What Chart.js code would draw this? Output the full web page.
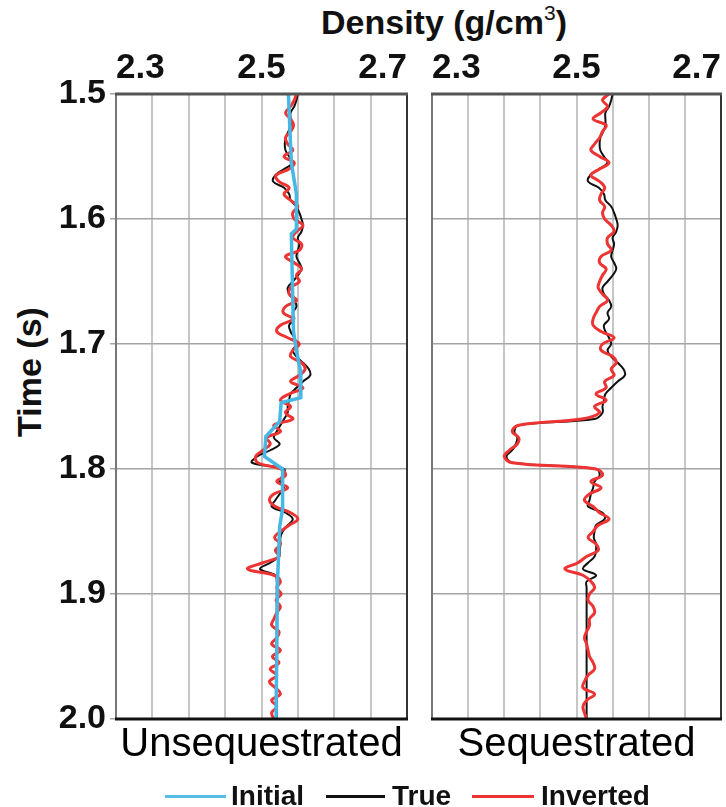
<!DOCTYPE html>
<html>
<head>
<meta charset="utf-8">
<script src="https://cdn.jsdelivr.net/npm/chart.js@4.4.1/dist/chart.umd.min.js"></script>
<style>
  body { margin: 0; background: #fff; width: 726px; height: 807px; position: relative; overflow: hidden;
         font-family: "Liberation Sans", Arial, sans-serif; }
  canvas { position: absolute; top: 0; }
  #left { left: 0; }
  #right { left: 420px; }
  #xtitle { position: absolute; left: 0; width: 888px; top: 5px; text-align: center;
            font-size: 34px; line-height: 34px; font-weight: bold; color: #111; }
  #xtitle sup { font-size: 21px; font-weight: normal; vertical-align: 14px; line-height: 0; }
  #ytitle { position: absolute; left: 29px; top: 372px; transform: translate(-50%, -50%) rotate(-90deg);
            font-size: 34px; line-height: 34px; font-weight: bold; color: #111; white-space: nowrap; }
  .lg-line { position: absolute; height: 3px; top: 795px; }
  .lg-text { position: absolute; top: 780px; font-size: 28px; line-height: 32px; font-weight: bold; color: #111; }
</style>
</head>
<body>
<div id="xtitle">Density (g/cm<sup>3</sup>)</div>
<div id="ytitle">Time (s)</div>
<canvas id="left" width="420" height="807"></canvas>
<canvas id="right" width="306" height="807"></canvas>

<div class="lg-line" style="left:165px;width:61px;background:#55bde8"></div>
<div class="lg-text" style="left:231px">Initial</div>
<div class="lg-line" style="left:326px;width:59px;background:#111"></div>
<div class="lg-text" style="left:392px">True</div>
<div class="lg-line" style="left:472px;width:62px;background:#ee3333"></div>
<div class="lg-text" style="left:541px">Inverted</div>

<script>
// time samples (s)
const times = [
  1.500, 1.505, 1.510, 1.515, 1.520, 1.525, 1.530, 1.535, 1.540, 1.545,
  1.550, 1.555, 1.560, 1.565, 1.570, 1.575, 1.580, 1.585, 1.590, 1.595,
  1.600, 1.605, 1.610, 1.615, 1.620, 1.625, 1.630, 1.635, 1.640, 1.645,
  1.650, 1.655, 1.660, 1.665, 1.670, 1.675, 1.680, 1.685, 1.690, 1.695,
  1.700, 1.705, 1.710, 1.715, 1.720, 1.725, 1.730, 1.735, 1.740, 1.745,
  1.750, 1.755, 1.760, 1.765, 1.770, 1.775, 1.780, 1.785, 1.790, 1.795,
  1.800, 1.805, 1.810, 1.815, 1.820, 1.825, 1.830, 1.835, 1.840, 1.845,
  1.850, 1.855, 1.860, 1.865, 1.870, 1.875, 1.880, 1.885, 1.890, 1.895,
  1.900, 1.905, 1.910, 1.915, 1.920, 1.925, 1.930, 1.935, 1.940, 1.945,
  1.950, 1.955, 1.960, 1.965, 1.970, 1.975, 1.980, 1.985, 1.990, 1.995,
  2.000
];

// true density above the reservoir (1.500 - 1.755 s), same in both panels
const trueShallow = [
  2.550, 2.548, 2.545, 2.540, 2.540, 2.540, 2.537, 2.533, 2.532, 2.533,
  2.538, 2.543, 2.531, 2.519, 2.516, 2.531, 2.538, 2.540, 2.548, 2.552,
  2.555, 2.557, 2.555, 2.550, 2.552, 2.550, 2.548, 2.552, 2.555, 2.550,
  2.543, 2.536, 2.538, 2.545, 2.548, 2.543, 2.545, 2.538, 2.540, 2.545,
  2.548, 2.543, 2.548, 2.557, 2.565, 2.567, 2.557, 2.548, 2.540, 2.538,
  2.536, 2.536
];

// true density 1.760 - 2.000 s
const trueUnseqDeep = [
  2.531, 2.526, 2.521, 2.517, 2.525, 2.512, 2.494, 2.487, 2.531, 2.529,
  2.525, 2.531, 2.525, 2.519, 2.514, 2.533, 2.543, 2.536, 2.529, 2.526,
  2.526, 2.525, 2.524, 2.512, 2.498, 2.519, 2.521, 2.521, 2.521, 2.521,
  2.521, 2.521, 2.521, 2.521, 2.521, 2.521, 2.521, 2.521, 2.521, 2.521,
  2.521, 2.521, 2.521, 2.521, 2.521, 2.521, 2.521, 2.521, 2.521
];
const trueSeqDeep = [
  2.525, 2.420, 2.414, 2.418, 2.416, 2.411, 2.403, 2.412, 2.527, 2.532,
  2.525, 2.523, 2.520, 2.518, 2.516, 2.536, 2.539, 2.527, 2.525, 2.524,
  2.527, 2.527, 2.525, 2.516, 2.509, 2.527, 2.514, 2.514, 2.514, 2.514,
  2.514, 2.514, 2.514, 2.514, 2.514, 2.514, 2.514, 2.514, 2.514, 2.514,
  2.514, 2.514, 2.514, 2.514, 2.514, 2.514, 2.514, 2.514, 2.514
];

// inverted density
const invUnseq = [
  2.548, 2.545, 2.540, 2.533, 2.540, 2.544, 2.540, 2.533, 2.536, 2.543,
  2.531, 2.545, 2.538, 2.520, 2.524, 2.538, 2.531, 2.540, 2.550, 2.543,
  2.545, 2.557, 2.548, 2.543, 2.555, 2.552, 2.533, 2.545, 2.555, 2.548,
  2.552, 2.540, 2.538, 2.548, 2.533, 2.530, 2.543, 2.526, 2.521, 2.536,
  2.552, 2.543, 2.540, 2.555, 2.560, 2.552, 2.540, 2.557, 2.538, 2.526,
  2.540, 2.533, 2.543, 2.517, 2.526, 2.507, 2.512, 2.502, 2.492, 2.495,
  2.526, 2.533, 2.521, 2.536, 2.517, 2.511, 2.519, 2.540, 2.550, 2.538,
  2.526, 2.518, 2.526, 2.519, 2.524, 2.502, 2.481, 2.517, 2.526, 2.521,
  2.527, 2.520, 2.526, 2.521, 2.517, 2.514, 2.524, 2.521, 2.514, 2.526,
  2.515, 2.524, 2.512, 2.521, 2.511, 2.519, 2.526, 2.514, 2.521, 2.514,
  2.517
];
const invSeq = [
  2.545, 2.536, 2.543, 2.534, 2.523, 2.541, 2.536, 2.532, 2.525, 2.520,
  2.532, 2.545, 2.532, 2.520, 2.532, 2.539, 2.534, 2.532, 2.539, 2.536,
  2.539, 2.548, 2.552, 2.543, 2.543, 2.548, 2.534, 2.532, 2.541, 2.536,
  2.532, 2.530, 2.536, 2.543, 2.532, 2.527, 2.523, 2.523, 2.534, 2.552,
  2.536, 2.534, 2.550, 2.555, 2.548, 2.552, 2.539, 2.541, 2.527, 2.541,
  2.525, 2.532, 2.507, 2.420, 2.411, 2.420, 2.418, 2.407, 2.400, 2.411,
  2.527, 2.536, 2.520, 2.534, 2.518, 2.511, 2.523, 2.532, 2.545, 2.530,
  2.523, 2.516, 2.527, 2.530, 2.514, 2.502, 2.484, 2.509, 2.520, 2.525,
  2.518, 2.516, 2.523, 2.525, 2.518, 2.518, 2.514, 2.511, 2.514, 2.516,
  2.518, 2.523, 2.525, 2.516, 2.511, 2.509, 2.525, 2.514, 2.509, 2.511,
  2.514
];

// initial model (blocky), unsequestrated panel only
const initTimes = [1.500, 1.555, 1.580, 1.608, 1.612, 1.690, 1.705, 1.720, 1.743, 1.747,
                   1.762, 1.774, 1.790, 1.800, 1.832, 1.846, 1.890, 2.000];
const initDensity = [2.537, 2.541, 2.548, 2.548, 2.541, 2.544, 2.548, 2.553, 2.554, 2.527,
                     2.525, 2.506, 2.504, 2.529, 2.529, 2.525, 2.522, 2.520];

const xLabels = ['2.3', '2.5', '2.7'];
const FONT = '"Liberation Sans", Arial, sans-serif';

function pts(ts, vs) {
  return ts.map((t, i) => ({ x: vs[i], y: t }));
}

// frame around the plot area
const frame = {
  id: 'frame',
  afterDatasetsDraw(chart) {
    const { ctx, chartArea: a } = chart;
    ctx.save();
    ctx.lineWidth = 2;
    ctx.strokeStyle = '#777';
    ctx.beginPath(); ctx.moveTo(a.left, a.top); ctx.lineTo(a.left, a.bottom); ctx.stroke();
    ctx.strokeStyle = '#333';
    ctx.beginPath(); ctx.moveTo(a.right, a.top); ctx.lineTo(a.right, a.bottom); ctx.stroke();
    ctx.lineWidth = 3;
    ctx.strokeStyle = '#555';
    ctx.beginPath(); ctx.moveTo(a.left - 1, a.top); ctx.lineTo(a.right + 1, a.top); ctx.stroke();
    ctx.strokeStyle = '#111';
    ctx.beginPath(); ctx.moveTo(a.left - 1, a.bottom); ctx.lineTo(a.right + 1, a.bottom); ctx.stroke();
    ctx.restore();
  }
};

function makeChart(id, title, datasets, isLeft) {
  return new Chart(document.getElementById(id), {
    type: 'scatter',
    data: { datasets },
    plugins: [frame],
    options: {
      responsive: false,
      animation: false,
      layout: { padding: { left: 0, top: 0, right: isLeft ? 13 : 2, bottom: 0 } },
      elements: { point: { radius: 0 } },
      plugins: {
        legend: { display: false },
        tooltip: { enabled: false },
        title: {
          display: true, position: 'bottom', text: title, fullSize: false, color: '#000',
          font: { family: FONT, size: 40, weight: 'normal' },
          padding: { top: 2, bottom: 38 }
        }
      },
      scales: {
        x: {
          type: 'linear', position: 'top', min: 2.3, max: 2.7,
          afterFit: s => { s.height = 94; },
          border: { display: false },
          grid: { color: '#c6c6c6', lineWidth: 2, drawTicks: false },
          ticks: {
            stepSize: 0.05, autoSkip: false, maxRotation: 0, align: 'inner', padding: 5, color: '#111',
            font: { family: FONT, size: 35, weight: 'bold' },
            callback: v => {
              const s = v.toFixed(1);
              return Math.abs(v - parseFloat(s)) < 1e-6 && xLabels.includes(s) ? s : '';
            }
          }
        },
        y: {
          type: 'linear', position: 'left', min: 1.5, max: 2.0, reverse: true,
          afterFit: s => { s.width = isLeft ? 116 : 12; },
          border: { display: false },
          grid: { color: '#a4a4a4', lineWidth: 1.5, drawTicks: isLeft, tickLength: 6 },
          ticks: {
            display: isLeft, stepSize: 0.1, padding: 4, color: '#111',
            font: { family: FONT, size: 34, weight: 'bold' },
            callback: v => v.toFixed(1)
          }
        }
      }
    }
  });
}

const trueLine = (vals) => ({
  label: 'True', data: pts(times, vals), showLine: true,
  borderColor: '#111', borderWidth: 2, tension: 0.4, order: 3
});
const invLine = (vals) => ({
  label: 'Inverted', data: pts(times, vals), showLine: true,
  borderColor: '#ee3333', borderWidth: 3, tension: 0.4, order: 2
});

makeChart('left', 'Unsequestrated', [
  trueLine(trueShallow.concat(trueUnseqDeep)),
  invLine(invUnseq),
  { label: 'Initial', data: pts(initTimes, initDensity), showLine: true,
    borderColor: '#45b8e6', borderWidth: 3.5, tension: 0, order: 1 }
], true);

makeChart('right', 'Sequestrated', [
  trueLine(trueShallow.concat(trueSeqDeep)),
  invLine(invSeq)
], false);
</script>
</body>
</html>
